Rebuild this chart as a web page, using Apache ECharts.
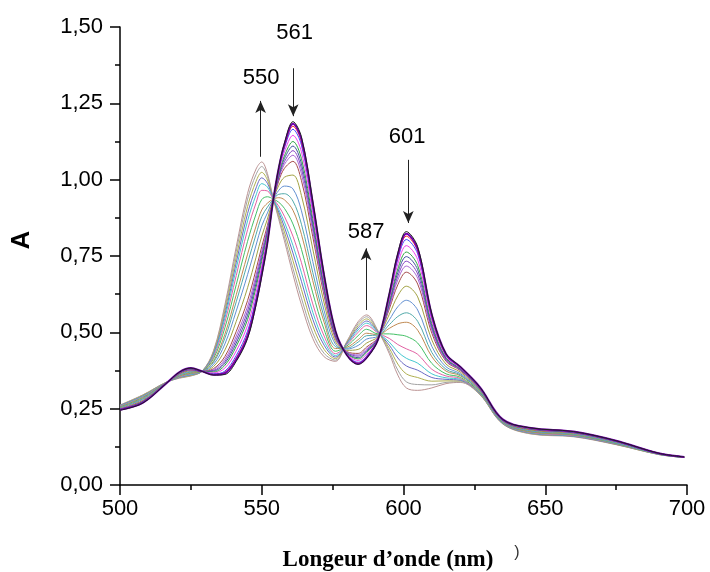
<!DOCTYPE html>
<html><head><meta charset="utf-8">
<script src="https://cdn.jsdelivr.net/npm/echarts@6/dist/echarts.min.js"></script>
<style>html,body{margin:0;padding:0;background:#fff}#c{width:710px;height:572px}</style>
</head><body><div id="c"></div>
<script>
// wavelengths (nm) shared by all scans
const wavelengths = [500,508,516,521,525,529,533,537,541,545,548,550,552,554,556,558,561,564,568,572,576,580,584,587,591,595,598,601,605,610,615,620,627,635,645,660,675,690,699];

// absorbance of each scan (initial -> final)
const scan01 = [.262,.295,.335,.350,.357,.373,.440,.590,.780,.955,1.035,1.058,1.020,.940,.870,.800,.690,.590,.480,.420,.405,.470,.535,.557,.505,.430,.360,.318,.310,.318,.332,.336,.295,.200,.167,.158,.132,.100,.090];
const scan02 = [.261,.294,.335,.351,.358,.373,.437,.581,.765,.936,1.017,1.043,1.011,.940,.877,.813,.710,.612,.498,.431,.409,.468,.529,.551,.504,.438,.376,.338,.329,.328,.336,.338,.296,.201,.168,.159,.133,.100,.090];
const scan03 = [.260,.293,.335,.352,.359,.373,.433,.570,.746,.912,.995,1.024,.999,.939,.885,.829,.735,.640,.521,.444,.414,.466,.522,.544,.502,.448,.396,.364,.352,.340,.341,.341,.297,.201,.169,.160,.133,.100,.090];
const scan04 = [.260,.291,.334,.353,.361,.373,.429,.558,.728,.889,.973,1.006,.988,.939,.894,.845,.760,.667,.543,.458,.419,.464,.515,.537,.501,.458,.416,.390,.376,.352,.346,.343,.299,.202,.170,.160,.134,.101,.090];
const scan05 = [.259,.290,.334,.354,.362,.373,.425,.547,.709,.865,.950,.987,.976,.938,.902,.861,.785,.695,.566,.471,.424,.461,.508,.530,.499,.468,.436,.415,.399,.364,.351,.346,.300,.203,.171,.161,.135,.101,.090];
const scan06 = [.258,.288,.334,.355,.364,.373,.420,.533,.686,.836,.924,.965,.963,.938,.913,.880,.815,.728,.593,.488,.430,.459,.500,.522,.498,.480,.460,.446,.428,.379,.357,.349,.301,.204,.172,.162,.135,.101,.091];
const scan07 = [.256,.286,.333,.357,.366,.373,.414,.515,.656,.798,.888,.935,.944,.937,.926,.906,.855,.772,.629,.509,.438,.455,.489,.510,.495,.495,.492,.487,.465,.398,.364,.353,.303,.205,.174,.164,.136,.101,.091];
const scan08 = [.255,.284,.333,.358,.368,.373,.406,.494,.623,.756,.848,.901,.923,.936,.941,.934,.900,.821,.669,.533,.447,.451,.476,.497,.492,.513,.528,.533,.507,.420,.373,.358,.306,.206,.175,.165,.138,.102,.091];
const scan09 = [.254,.282,.333,.360,.370,.373,.402,.481,.600,.727,.821,.879,.910,.935,.952,.954,.930,.854,.696,.550,.453,.448,.468,.489,.491,.525,.552,.564,.536,.434,.379,.361,.307,.207,.177,.166,.138,.102,.091];
const scan10 = [.252,.280,.332,.361,.372,.373,.395,.462,.570,.689,.786,.849,.891,.934,.965,.979,.970,.898,.732,.571,.461,.445,.457,.478,.488,.541,.584,.605,.573,.454,.387,.365,.309,.208,.178,.168,.139,.102,.091];
const scan11 = [.251,.277,.332,.363,.374,.372,.388,.442,.536,.646,.746,.815,.871,.934,.981,1.008,1.015,.948,.773,.596,.470,.441,.444,.465,.486,.559,.620,.651,.616,.475,.396,.370,.311,.210,.180,.169,.141,.103,.091];
const scan12 = [.249,.275,.331,.365,.376,.372,.381,.421,.503,.604,.706,.781,.850,.933,.996,1.037,1.060,.997,.813,.620,.479,.437,.431,.452,.483,.577,.656,.697,.658,.497,.405,.375,.314,.211,.182,.171,.142,.103,.091];
const scan13 = [.249,.274,.331,.366,.377,.372,.378,.412,.488,.585,.688,.766,.841,.932,1.003,1.050,1.080,1.019,.831,.631,.483,.435,.426,.446,.482,.584,.672,.717,.677,.507,.408,.377,.315,.212,.183,.171,.142,.103,.092];
const scan14 = [.248,.273,.331,.366,.378,.372,.375,.405,.476,.570,.675,.755,.834,.932,1.008,1.059,1.095,1.036,.845,.639,.486,.434,.422,.442,.481,.590,.684,.733,.691,.514,.411,.378,.315,.212,.183,.172,.143,.103,.092];
const scan15 = [.248,.272,.331,.367,.379,.372,.373,.399,.465,.556,.661,.744,.827,.932,1.013,1.069,1.110,1.052,.858,.647,.489,.432,.417,.438,.480,.596,.696,.748,.705,.521,.414,.380,.316,.213,.184,.172,.143,.103,.092];
const scan16 = [.247,.272,.331,.367,.380,.372,.370,.392,.454,.542,.648,.733,.820,.931,1.018,1.078,1.125,1.069,.872,.655,.492,.431,.413,.434,.479,.602,.708,.763,.719,.529,.417,.381,.317,.213,.184,.173,.143,.103,.092];
const scan17 = [.247,.270,.330,.368,.381,.372,.367,.383,.439,.523,.630,.718,.811,.931,1.025,1.091,1.145,1.091,.890,.666,.496,.429,.408,.428,.478,.610,.724,.784,.738,.538,.421,.383,.318,.214,.185,.174,.144,.104,.092];
const scan18 = [.246,.269,.330,.369,.382,.372,.364,.373,.424,.504,.612,.703,.802,.931,1.032,1.104,1.165,1.113,.908,.677,.500,.427,.402,.422,.477,.618,.740,.804,.757,.548,.425,.385,.319,.214,.186,.174,.144,.104,.092];
const scan19 = [.246,.269,.330,.369,.382,.372,.362,.369,.416,.494,.603,.695,.797,.930,1.035,1.110,1.175,1.124,.917,.682,.502,.426,.399,.419,.476,.622,.748,.815,.766,.553,.427,.386,.319,.215,.186,.175,.145,.104,.092];
const scan20 = [.246,.269,.330,.370,.383,.372,.361,.366,.411,.487,.597,.690,.794,.930,1.038,1.115,1.183,1.132,.924,.686,.504,.426,.397,.417,.476,.625,.754,.823,.773,.557,.429,.387,.320,.215,.187,.175,.145,.104,.092];
const scan21 = [.245,.268,.330,.370,.383,.372,.360,.362,.405,.480,.590,.684,.790,.930,1.040,1.120,1.190,1.140,.930,.690,.505,.425,.395,.415,.475,.628,.760,.830,.780,.560,.430,.388,.320,.215,.187,.175,.145,.104,.092];

const scans = [scan01,scan02,scan03,scan04,scan05,scan06,scan07,scan08,scan09,scan10,scan11,scan12,scan13,scan14,scan15,scan16,scan17,scan18,scan19,scan20,scan21];
const scanColors = ['#bc9494','#a3a3a3','#b0b050','#6a6ac4','#44c8d0','#e262a4','#44c066','#c08a52','#52aaaa','#6290d2','#a2a242','#a44a4a','#a866d6','#8444c4','#42529e','#32a244','#f044f0','#4444ff','#ff3030','#7000b0','#1e1e1e'];
const scanWidths = [1,1,1,1,1,1,1,1,1,1,1,1,1,1,1,1,1,1,1,2,1];

// annotations
const peakLabels = ['550','561','587','601'];
const peakLabelAt = [[549.8,1.333],[561.6,1.48],[586.8,0.829],[601.3,1.14]];
const arrowFrom = [[549.6,1.075],[561.1,1.365],[586.8,0.573],[601.7,1.065]];
const arrowTo   = [[549.6,1.258],[561.1,1.208],[586.8,0.775],[601.7,0.858]];

const fmt = v => v.toFixed(2).replace('.', ',');
const chart = echarts.init(document.getElementById('c'));
const series = scans.map((s, k) => ({
  type: 'line',
  data: wavelengths.map((w, i) => [w, s[i]]),
  showSymbol: false,
  smooth: 0.35,
  lineStyle: { color: scanColors[k], width: scanWidths[k] },
  itemStyle: { color: scanColors[k] },
  silent: true,
  z: 2
}));
series.push({
  type: 'scatter',
  symbolSize: 0,
  silent: true,
  z: 5,
  itemStyle: { color: '#000', opacity: 1 },
  data: peakLabels.map((t, i) => ({ name: t, value: peakLabelAt[i] })),
  label: { show: true, position: 'inside', formatter: p => p.name, color: '#000', opacity: 1, textBorderWidth: 0, fontSize: 22, fontFamily: 'Liberation Sans' },
  markLine: {
    silent: true,
    symbol: ['none', 'arrow'],
    symbolSize: [8, 12],
    lineStyle: { color: '#222', width: 1, type: 'solid' },
    label: { show: false },
    data: arrowFrom.map((a, i) => [{ coord: a }, { coord: arrowTo[i] }])
  }
});

chart.setOption({
  animation: false,
  backgroundColor: '#fff',
  grid: { left: 120, right: 23, top: 27, bottom: 87 },
  xAxis: {
    type: 'value', min: 500, max: 700, interval: 50,
    axisLine: { show: true, lineStyle: { color: '#000', width: 1.5 } },
    axisTick: { show: true, length: 10, lineStyle: { color: '#000', width: 1.5 } },
    minorTick: { show: true, splitNumber: 2, length: 5, lineStyle: { color: '#000', width: 1.5 } },
    splitLine: { show: false },
    axisLabel: { color: '#000', fontSize: 22, fontFamily: 'Liberation Sans', margin: 13 }
  },
  yAxis: {
    type: 'value', min: 0, max: 1.5, interval: 0.25,
    axisLine: { show: true, lineStyle: { color: '#000', width: 1.5 } },
    axisTick: { show: true, length: 10, lineStyle: { color: '#000', width: 1.5 } },
    minorTick: { show: true, splitNumber: 2, length: 5, lineStyle: { color: '#000', width: 1.5 } },
    splitLine: { show: false },
    axisLabel: { color: '#000', fontSize: 22, fontFamily: 'Liberation Sans', margin: 17, formatter: fmt }
  },
  graphic: [
    { type: 'text', x: 22, y: 240, rotation: Math.PI / 2,
      style: { text: 'A', font: 'bold 26px "Liberation Sans"', fill: '#000', textAlign: 'center', textVerticalAlign: 'middle' } },
    { type: 'text', x: 388, y: 560,
      style: { text: 'Longeur d\u2019onde (nm)', font: 'bold 23px "Liberation Serif"', fill: '#000', textAlign: 'center', textVerticalAlign: 'middle' } },
    { type: 'text', x: 517, y: 553,
      style: { text: ')', font: '16px "Liberation Sans"', fill: '#333', textAlign: 'center', textVerticalAlign: 'middle' } }
  ],
  series
});
</script></body></html>
